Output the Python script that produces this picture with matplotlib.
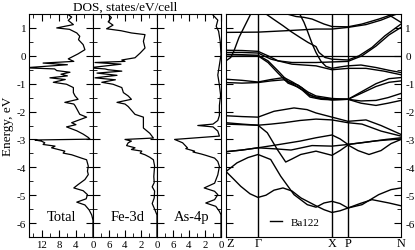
import numpy as np
import matplotlib
matplotlib.use('Agg')
import matplotlib.pyplot as plt
from matplotlib.ticker import MultipleLocator

plt.rcParams['font.family'] = ['Liberation Serif', 'DejaVu Serif']
plt.rcParams['axes.unicode_minus'] = False

# DOS curves: (energy eV, states/eV/cell)
total = [(1.55, 6.0), (1.52, 6.2), (1.39, 5.0), (1.27, 5.8), (1.12, 4.6), (1.0, 8.5), (0.95, 5.5),
         (0.82, 3.8), (0.7, 3.1), (0.58, 3.4), (0.4, 2.3), (0.22, 1.9), (0.07, 3.5), (-0.11, 5.8),
         (-0.2, 4.5), (-0.26, 11.7), (-0.32, 6.0), (-0.43, 16.0), (-0.47, 9.0), (-0.53, 8.5),
         (-0.59, 5.4), (-0.66, 7.5), (-0.72, 6.0), (-0.79, 10.1), (-0.85, 6.5), (-0.95, 9.3),
         (-1.02, 6.2), (-1.14, 4.6), (-1.32, 4.6), (-1.44, 4.2), (-1.56, 3.5), (-1.67, 6.6),
         (-1.73, 4.5), (-1.79, 4.2), (-2.1, 3.1), (-2.2, 1.5), (-2.4, 5.0), (-2.47, 4.0),
         (-2.55, 6.2), (-2.69, 3.8), (-2.81, 2.3), (-2.93, 1.1), (-2.99, 0.7), (-3.02, 13.6),
         (-3.06, 12.1), (-3.12, 11.3), (-3.18, 11.7), (-3.24, 8.9), (-3.3, 9.7), (-3.42, 6.6),
         (-3.49, 7.0), (-3.55, 5.0), (-3.67, 2.7), (-3.73, 1.5), (-3.96, 1.1), (-4.14, 1.3),
         (-4.26, 1.1), (-4.44, 1.9), (-4.62, 3.5), (-4.74, 4.5), (-4.84, 2.3), (-4.98, 1.3),
         (-5.13, 1.6), (-5.25, 3.8), (-5.35, 1.9), (-5.53, 0.9), (-5.71, 0.3), (-5.9, 0.0),
         (-6.5, 0.0)]
fe3d = [(1.55, 6.0), (1.52, 6.2), (1.37, 5.7), (1.22, 6.1), (1.1, 5.5), (0.97, 6.3), (0.9, 4.5),
        (0.82, 3.2), (0.76, 1.5), (0.52, 1.7), (0.28, 1.5), (0.1, 2.1), (-0.07, 2.75), (-0.15, 4.4),
        (-0.2, 4.0), (-0.24, 7.75), (-0.3, 4.5), (-0.43, 8.5), (-0.47, 6.5), (-0.5, 6.1),
        (-0.55, 4.4), (-0.62, 7.5), (-0.7, 5.0), (-0.79, 7.75), (-0.86, 5.2), (-0.95, 6.9),
        (-1.02, 5.5), (-1.14, 4.4), (-1.32, 4.2), (-1.44, 3.6), (-1.56, 3.2), (-1.67, 5.0),
        (-1.73, 4.0), (-1.82, 3.6), (-2.1, 2.75), (-2.2, 1.7), (-2.45, 1.7), (-2.59, 1.7),
        (-2.78, 0.9), (-2.95, 0.45), (-3.0, 4.0), (-3.06, 3.2), (-3.12, 3.6), (-3.22, 3.8),
        (-3.3, 2.75), (-3.36, 3.2), (-3.42, 1.9), (-3.49, 2.1), (-3.55, 1.5), (-3.64, 0.9),
        (-3.73, 0.45), (-3.95, 0.3), (-4.33, 0.4), (-4.55, 0.35), (-4.7, 0.6), (-4.85, 0.3),
        (-5.1, 0.35), (-5.3, 0.6), (-5.5, 0.3), (-5.71, 0.0), (-6.5, 0.0)]
as4p = [(1.55, 1.0), (1.46, 1.0), (1.28, 0.4), (1.06, 0.6), (0.88, 0.3), (0.52, 0.1), (0.04, 0.0),
        (-0.33, 0.2), (-0.69, 0.4), (-1.05, 0.2), (-1.41, 0.05), (-1.78, 0.2), (-2.14, 0.2),
        (-2.32, 0.4), (-2.45, 1.0), (-2.5, 2.9), (-2.55, 1.0), (-2.7, 0.4), (-2.88, 0.2),
        (-3.0, 5.8), (-3.12, 4.8), (-3.3, 4.2), (-3.33, 4.4), (-3.42, 3.3), (-3.45, 3.5),
        (-3.52, 2.5), (-3.57, 1.9), (-3.67, 0.8), (-3.79, 0.4), (-3.97, 0.2), (-4.27, 0.4),
        (-4.57, 0.8), (-4.74, 2.1), (-4.86, 0.8), (-4.98, 0.4), (-5.16, 0.8), (-5.28, 1.9),
        (-5.4, 0.65), (-5.58, 0.2), (-5.7, 0.0), (-6.5, 0.0)]

# band structure along Z-G-X-P-N: (path distance, energy eV)
kpos = [0, 32, 106, 122, 175]
klab = ['Z', 'Γ', 'X', 'P', 'N']

b1 = [(0, -4.15), (7, -4.4), (14.7, -4.68), (24, -4.95), (32, -5.08), (40, -5.0), (48, -4.82),
      (57, -4.74), (66, -4.85), (75, -5.1), (90, -5.38), (98, -5.52), (106, -5.62), (114, -5.56),
      (122, -5.46), (134, -5.3), (146, -5.16), (163, -5.28), (175, -5.38)]
b2 = [(0, -4.15), (11, -3.84), (22, -3.65), (32, -3.54), (44.7, -3.72), (54.7, -4.32), (68, -4.98),
      (81.3, -5.34), (90, -5.43), (98, -5.28), (106, -5.22), (114, -5.3), (122, -5.46),
      (136, -5.34), (152.7, -4.98), (165, -4.8), (175, -4.74)]
b3 = [(0, -3.44), (16, -3.38), (32, -3.3), (50, -3.2), (74, -3.06), (90, -2.94), (106, -2.84),
      (114, -2.98), (122, -3.18), (140, -3.1), (160, -3.0), (175, -2.94)]
b4 = [(0, -3.44), (16, -3.38), (32, -3.3), (50, -3.34), (65, -3.38), (86, -3.22), (106, -3.24),
      (122, -3.18), (150, -3.05), (175, -2.98)]
b5 = [(0, -2.45), (16, -2.47), (32, -2.49), (41.3, -2.76), (51.3, -3.36), (59.7, -3.81), (66, -3.7),
      (74.7, -3.54), (90, -3.42), (106, -3.57), (114, -3.4), (122, -3.2), (132, -3.4),
      (143, -3.54), (155, -3.4), (165, -3.15), (175, -3.0)]
b6 = [(0, -2.4), (16, -2.45), (32, -2.49), (45, -2.45), (58, -2.4), (74, -2.32), (90, -2.27),
      (106, -2.3), (122, -2.4), (136, -2.45), (155, -2.7), (175, -2.88)]
b7 = [(0, -2.15), (16, -2.18), (32, -2.2), (48, -1.99), (68, -1.87), (81, -1.93), (90, -2.05),
      (106, -2.2), (122, -2.35), (140, -2.3), (155, -2.5), (175, -2.82)]
b8 = [(0, -0.84), (16, -0.88), (32, -0.94), (45, -0.85), (58, -0.78), (67, -0.95), (76, -1.15),
      (84, -1.43), (95, -1.52), (106, -1.55), (122, -1.56), (135, -1.7), (150, -1.78),
      (162, -1.7), (175, -1.6)]
b9 = [(0, -0.96), (16, -0.98), (32, -0.96), (45, -0.9), (58, -0.86), (67, -1.02), (76, -1.22),
      (84, -1.48), (95, -1.56), (106, -1.58), (122, -1.56), (135, -1.62), (150, -1.6),
      (162, -1.5), (175, -1.35)]
b10 = [(0, 0.05), (16, 0.04), (32, 0.02), (42, -0.18), (52, -0.54), (62, -0.92), (72, -1.05),
       (82, -1.3), (90, -1.44), (106, -1.53), (122, -1.56), (135, -1.35), (150, -1.1),
       (163, -0.95), (175, -0.9)]
b11 = [(0, -0.02), (16, -0.01), (32, 0.0), (42, -0.24), (52, -0.62), (62, -0.98), (72, -1.12),
       (82, -1.36), (90, -1.5), (106, -1.58), (122, -1.56), (135, -1.3), (150, -1.0),
       (163, -0.82), (175, -0.78)]
b12 = [(0, 0.2), (16, 0.19), (32, 0.16), (42, 0.0), (52, -0.18), (66, -0.24), (90, -0.24),
       (106, -0.22), (122, -0.2), (129, -0.1), (136, 0.0), (150, 0.35), (163, 0.75), (175, 1.02)]
b13 = [(0, 0.12), (16, 0.12), (32, 0.1), (45, -0.12), (66, -0.3), (90, -0.36), (106, -0.5),
       (122, -0.45), (140, -0.45), (158, -0.55), (175, -0.68)]
b14 = [(70, 1.7), (73, 1.55), (78, 1.2), (81.3, 0.9), (86.3, 0.42), (90, 0.12), (95, -0.2),
       (100, -0.38), (106, -0.45), (114, -0.4), (122, -0.36), (135, -0.33), (150, -0.42),
       (163, -0.52), (175, -0.6)]
b15 = [(0, -0.18), (4.7, -0.06), (8, 0.18), (13, 0.66), (19.7, 1.14), (24.7, 1.5), (28, 1.58),
       (32, 1.62), (36, 1.6), (40, 1.5), (48, 1.3), (57, 1.08), (65, 0.87), (74, 0.66),
       (82, 0.48), (90, 0.33), (93, 0.12), (99, -0.06), (106, -0.12), (122, -0.15), (133, 0.0),
       (146, 0.3), (159, 0.72), (175, 1.14)]
b16 = [(55, 1.65), (58, 1.53), (70, 1.41), (78, 1.38), (86, 1.32), (98, 1.14), (106, 1.05),
       (122, 1.04), (136, 1.14), (153, 1.32), (166, 1.48), (172, 1.6)]
b17 = [(0, 0.84), (32, 0.85), (60, 0.9), (90, 0.96), (106, 0.96), (122, 1.02), (140, 1.12),
       (155, 1.28), (167, 1.45), (175, 1.55)]
b18 = [(150, 1.75), (158, 1.55), (166, 1.4), (175, 1.2)]
bands = [b1, b2, b3, b4, b5, b6, b7, b8, b9, b10, b11, b12, b13, b14, b15, b16, b17, b18]

W, H = 415, 251
fig = plt.figure(figsize=(W / 100, H / 100), dpi=100)


def box(x0, x1, y0=15, y1=238):
    return [x0 / W, 1 - y1 / H, (x1 - x0) / W, (y1 - y0) / H]


axT = fig.add_axes(box(29, 93))
axF = fig.add_axes(box(93, 157))
axA = fig.add_axes(box(157, 221))
axB = fig.add_axes(box(226, 401))

dos_panels = [(axT, total, 15, 'Total', 0.51), (axF, fe3d, 8, 'Fe-3d', 0.54),
              (axA, as4p, 8, 'As-4p', 0.54)]
for ax, curve, xmax, name, xt in dos_panels:
    d = np.array(curve)
    ax.plot(d[:, 1], d[:, 0], color='k', lw=0.9)
    ax.set_xlim(xmax, 0)
    ax.set_ylim(-6.5, 1.5)
    ax.yaxis.set_major_locator(MultipleLocator(1))
    ax.yaxis.set_minor_locator(MultipleLocator(0.5))
    if xmax == 15:
        ax.set_xticks([12, 8, 4, 0])
        ax.xaxis.set_minor_locator(MultipleLocator(2))
    else:
        ax.set_xticks([6, 4, 2, 0])
        ax.xaxis.set_minor_locator(MultipleLocator(1))
    ax.tick_params(which='both', direction='in', top=True, right=True, labelsize=8, pad=2)
    ax.tick_params(axis='x', labelsize=7.8, pad=7.3)
    for t in ax.get_xticklabels():
        t.set_va('baseline')
    ax.tick_params(which='major', length=5)
    ax.tick_params(which='minor', length=3)
    ax.text(xt, 0.09, name, transform=ax.transAxes, ha='center', va='center', fontsize=10.5)
    if ax is not axT:
        ax.tick_params(labelleft=False)

for b in bands:
    d = np.array(b)
    axB.plot(d[:, 0], d[:, 1], color='k', lw=1.0)
for k in kpos[1:4]:
    axB.axvline(k, color='k', lw=1.0)
axB.axhline(0, color='k', lw=0.9)
axB.set_xlim(0, 175)
axB.set_ylim(-6.5, 1.5)
axB.set_xticks(kpos, klab)
axB.tick_params(axis='x', length=0, labelsize=8.8, pad=6.6)
for t in axB.get_xticklabels():
    t.set_va('baseline')
axB.get_xticklabels()[0].set_ha('left')
axB.yaxis.set_major_locator(MultipleLocator(1))
axB.yaxis.set_minor_locator(MultipleLocator(0.5))
axB.yaxis.tick_right()
axB.tick_params(axis='y', which='both', direction='in', left=True, right=True, labelsize=8, pad=3)
axB.tick_params(axis='y', which='major', length=5)
axB.tick_params(axis='y', which='minor', length=3)
axB.legend(handles=axB.lines[:1], labels=['Ba122'], loc='lower left', bbox_to_anchor=(0.25, 0.045),
           frameon=False, fontsize=8, handlelength=1.1, handletextpad=0.8, borderpad=0,
           borderaxespad=0)

fig.text(125 / W, 1 - 8 / H, 'DOS, states/eV/cell', ha='center', va='center', fontsize=9.5)
fig.text(8 / W, 1 - 126 / H, 'Energy, eV', ha='center', va='center', rotation=90, fontsize=9.5)

fig.savefig('out.png', dpi=100)
